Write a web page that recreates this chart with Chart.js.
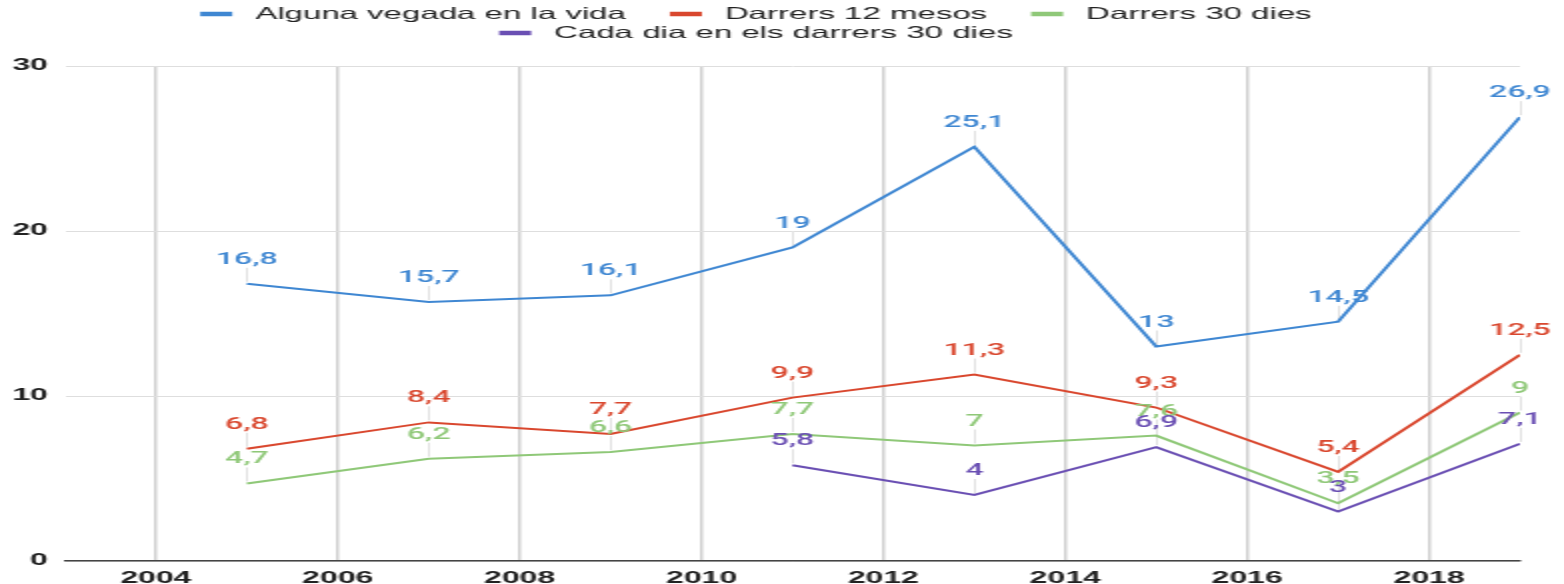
<!DOCTYPE html>
<html>
<head>
<meta charset="utf-8">
<script src="https://cdn.jsdelivr.net/npm/chart.js@4/dist/chart.umd.min.js"></script>
<style>
  html, body { margin: 0; padding: 0; background: #ffffff; overflow: hidden; }
  #wrap { position: absolute; left: 0; top: 0; width: 782px; height: 584px; transform: scaleX(2); transform-origin: 0 0; }
</style>
</head>
<body>
<div id="wrap"><canvas id="chart"></canvas></div>
<script>
// ---- data ----
const YEARS = [2005, 2007, 2009, 2011, 2013, 2015, 2017, 2019];
const X_TICKS = [2004, 2006, 2008, 2010, 2012, 2014, 2016, 2018];
const Y_TICKS = [0, 10, 20, 30];
const SERIES_NAMES = ['Alguna vegada en la vida', 'Darrers 12 mesos', 'Darrers 30 dies', 'Cada dia en els darrers 30 dies'];
const ALGUNA_VEGADA = [16.8, 15.7, 16.1, 19, 25.1, 13, 14.5, 26.9];
const DARRERS_12_MESOS = [6.8, 8.4, 7.7, 9.9, 11.3, 9.3, 5.4, 12.5];
const DARRERS_30_DIES = [4.7, 6.2, 6.6, 7.7, 7, 7.6, 3.5, 9];
const CADA_DIA_30_DIES = [null, null, null, 5.8, 4, 6.9, 3, 7.1];
const COLORS = ['#3f87d2', '#d9472e', '#8fc878', '#6a4fb3'];

const toPoints = arr => YEARS.map((yr, i) => ({ x: yr, y: arr[i] }));
const seriesValues = [ALGUNA_VEGADA, DARRERS_12_MESOS, DARRERS_30_DIES, CADA_DIA_30_DIES];

const datasets = seriesValues.map((vals, i) => ({
  label: SERIES_NAMES[i],
  data: toPoints(vals),
  borderColor: COLORS[i],
  backgroundColor: COLORS[i],
  borderWidth: 2,
  pointRadius: 0,
  pointHoverRadius: 0,
  tension: 0,
  spanGaps: false,
  fill: false
}));

const fmt = v => String(v).replace('.', ',');

// leader lines under series, value labels on top
const valueLabels = {
  id: 'valueLabels',
  beforeDatasetsDraw(chart) {
    const ctx = chart.ctx;
    ctx.save();
    ctx.strokeStyle = '#e2e2e2';
    ctx.lineWidth = 1;
    chart.data.datasets.forEach((ds, i) => {
      const meta = chart.getDatasetMeta(i);
      meta.data.forEach((pt, j) => {
        if (ds.data[j].y == null) return;
        const x = Math.round(pt.x) + 0.5;
        ctx.beginPath();
        ctx.moveTo(x, pt.y - 2);
        ctx.lineTo(x, pt.y - 16);
        ctx.stroke();
      });
    });
    ctx.restore();
  },
  afterDatasetsDraw(chart) {
    const ctx = chart.ctx;
    ctx.save();
    ctx.font = '500 16px Roboto, "Liberation Sans", sans-serif';
    ctx.textAlign = 'center';
    ctx.textBaseline = 'middle';
    chart.data.datasets.forEach((ds, i) => {
      const meta = chart.getDatasetMeta(i);
      meta.data.forEach((pt, j) => {
        const v = ds.data[j].y;
        if (v == null) return;
        ctx.fillStyle = ds.borderColor;
        ctx.fillText(fmt(v), pt.x, pt.y - 24);
      });
    });
    ctx.restore();
  }
};

// legend drawn as centred rows
const customLegend = {
  id: 'customLegend',
  afterDraw(chart) {
    const ctx = chart.ctx;
    const boxW = 16, boxH = 4.5, gapBoxText = 11.5, gapItems = 22;
    const rowY = [14, 33];
    const centerX = 378;
    const maxWidth = chart.width - 60;
    ctx.save();
    ctx.font = '16.5px "Liberation Sans", Arial, sans-serif';
    ctx.textBaseline = 'middle';
    ctx.textAlign = 'left';
    const items = chart.data.datasets.map(ds => ({
      text: ds.label, color: ds.borderColor,
      w: boxW + gapBoxText + ctx.measureText(ds.label).width
    }));
    const rows = [[]];
    let cur = 0;
    items.forEach(it => {
      const row = rows[rows.length - 1];
      const add = row.length ? gapItems + it.w : it.w;
      if (row.length && cur + add > maxWidth) { rows.push([it]); cur = it.w; }
      else { row.push(it); cur += add; }
    });
    rows.forEach((row, r) => {
      const total = row.reduce((s, it) => s + it.w, 0) + gapItems * (row.length - 1);
      let x = centerX - total / 2;
      const y = rowY[r] !== undefined ? rowY[r] : rowY[0] + r * 19;
      row.forEach(it => {
        ctx.fillStyle = it.color;
        ctx.fillRect(x, y - boxH / 2, boxW, boxH);
        ctx.fillStyle = '#222222';
        ctx.fillText(it.text, x + boxW + gapBoxText, y);
        x += it.w + gapItems;
      });
    });
    ctx.restore();
  }
};

Chart.defaults.font.family = '"Liberation Sans", Arial, sans-serif';
Chart.defaults.color = '#222222';

new Chart(document.getElementById('chart'), {
  type: 'line',
  data: { datasets },
  options: {
    responsive: true,
    maintainAspectRatio: false,
    animation: false,
    devicePixelRatio: 1,
    layout: { padding: { top: 66, right: 22, bottom: 0, left: 0 } },
    plugins: {
      legend: { display: false },
      tooltip: { enabled: false }
    },
    scales: {
      x: {
        type: 'linear',
        min: 2003,
        max: 2019,
        afterBuildTicks: s => { s.ticks = X_TICKS.map(v => ({ value: v })); },
        afterFit: s => { s.height = 23; },
        grid: { color: '#d0d0d0', lineWidth: 1.5, drawTicks: false },
        border: { display: true, color: '#444444', width: 1.5 },
        ticks: {
          padding: 8,
          maxRotation: 0,
          autoSkip: false,
          font: { size: 16, weight: 'bold' },
          color: '#222222',
          callback: v => String(v)
        }
      },
      y: {
        min: 0,
        max: 30,
        afterBuildTicks: s => { s.ticks = Y_TICKS.map(v => ({ value: v })); },
        afterFit: s => { s.width = 32.5; },
        grid: { color: '#dedede', lineWidth: 1, drawTicks: false },
        border: { display: false },
        ticks: {
          padding: 8.5,
          font: { size: 16, weight: 'bold' },
          color: '#222222',
          callback: v => String(v)
        }
      }
    }
  },
  plugins: [valueLabels, customLegend]
});
</script>
</body>
</html>
